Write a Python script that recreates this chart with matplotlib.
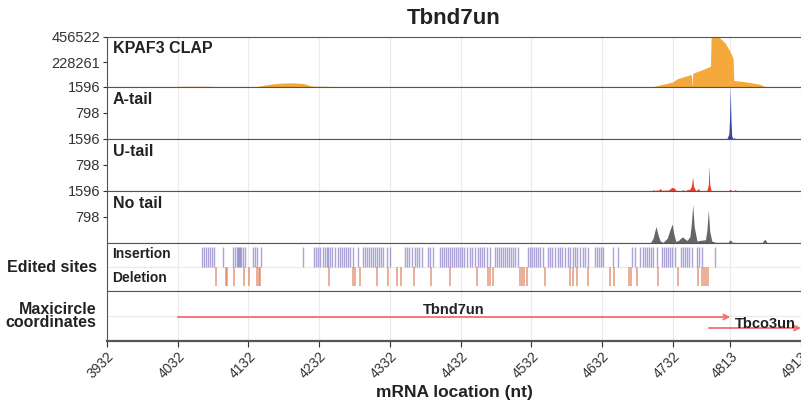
import matplotlib
matplotlib.use("Agg")
import matplotlib.pyplot as plt

plt.rcParams['font.family'] = ['Liberation Sans', 'DejaVu Sans']

# x axis
xticks = [3932, 4032, 4132, 4232, 4332, 4432, 4532, 4632, 4732, 4813, 4913]
xmin, xmax = 3932, 4913

# KPAF3 CLAP coverage
clap_x = [4030, 4034, 4045, 4075, 4082, 4090, 4140, 4150, 4165, 4180, 4195, 4210, 4219,
          4225, 4245, 4250, 4290, 4330, 4340, 4350, 4390, 4400,
          4690, 4705, 4711, 4731, 4738, 4756, 4758, 4759, 4760, 4780, 4785,
          4786, 4792, 4798, 4806, 4813, 4817, 4818, 4837, 4855, 4862, 4870]
clap_y = [0, 6000, 7000, 7000, 4000, 0, 0, 12000, 28000, 36000, 38000, 32000, 12000,
          7000, 6000, 4000, 4000, 4000, 0, 4000, 3000, 0,
          0, 5000, 15000, 45000, 75000, 112000, 112000, 5000, 125000, 175000, 190000,
          456522, 456522, 450000, 400000, 320000, 260000, 60000, 45000, 25000, 3000, 0]

# A-tail
a_x = [4808, 4811, 4812, 4813, 4814, 4815, 4817, 4818, 4819, 4820]
a_y = [0, 150, 600, 1596, 600, 100, 0, 40, 40, 0]

# U-tail
u_x = [4700, 4703, 4704, 4705, 4712, 4714, 4716, 4726, 4729, 4731, 4734, 4736,
       4744, 4746, 4748, 4756, 4758, 4760, 4761, 4764, 4766, 4768, 4770,
       4780, 4782, 4783, 4784, 4786, 4810, 4813, 4815, 4818, 4820, 4822]
u_y = [0, 20, 50, 20, 30, 80, 20, 30, 90, 110, 90, 20,
       10, 50, 10, 60, 150, 440, 150, 20, 30, 80, 10,
       20, 200, 770, 200, 10, 0, 60, 0, 0, 50, 0]

# No tail
n_x = [4700, 4704, 4708, 4711, 4714, 4718, 4724, 4728, 4731, 4733, 4736, 4740,
       4743, 4746, 4749, 4752, 4756, 4758, 4760, 4762, 4766, 4770, 4778,
       4780, 4782, 4784, 4787, 4792, 4800, 4810, 4813, 4816, 4825, 4840,
       4858, 4862, 4865, 4880]
n_y = [0, 150, 510, 250, 60, 20, 150, 420, 585, 300, 50, 80,
       150, 185, 120, 80, 200, 600, 1180, 500, 60, 80, 100,
       400, 1020, 350, 60, 20, 20, 20, 100, 20, 15, 15,
       15, 120, 10, 0]

# edited sites
insertions = [4066, 4069, 4072, 4075, 4078, 4080, 4083, 4096, 4110, 4113, 4116, 4117,
              4119, 4120, 4121, 4124, 4127, 4138, 4141, 4144, 4150, 4209, 4225, 4227,
              4230, 4233, 4237, 4240, 4243, 4244, 4247, 4250, 4254, 4259, 4261, 4264,
              4267, 4270, 4273, 4275, 4280, 4287, 4294, 4297, 4300, 4302, 4305, 4308,
              4311, 4314, 4316, 4319, 4322, 4328, 4332, 4353, 4356, 4359, 4363, 4367,
              4370, 4373, 4377, 4386, 4389, 4393, 4403, 4406, 4408, 4411, 4414, 4417,
              4420, 4423, 4425, 4428, 4431, 4434, 4437, 4441, 4445, 4448, 4452, 4456,
              4459, 4462, 4465, 4469, 4473, 4480, 4483, 4486, 4489, 4492, 4494, 4497,
              4500, 4503, 4506, 4509, 4513, 4527, 4530, 4533, 4535, 4538, 4541, 4544,
              4548, 4555, 4558, 4561, 4565, 4569, 4572, 4575, 4579, 4584, 4586, 4591,
              4594, 4597, 4601, 4605, 4608, 4612, 4622, 4625, 4628, 4630, 4633, 4647,
              4654, 4674, 4678, 4685, 4690, 4692, 4695, 4698, 4701, 4704, 4709, 4717,
              4719, 4722, 4725, 4728, 4731, 4735, 4743, 4746, 4749, 4752, 4755, 4759,
              4766, 4769, 4773, 4791]
deletions = [4086, 4100, 4102, 4112, 4126, 4133, 4144, 4147, 4148, 4246, 4280, 4283,
             4290, 4314, 4329, 4342, 4348, 4366, 4390, 4417, 4455, 4471, 4473, 4478,
             4516, 4519, 4521, 4526, 4551, 4586, 4591, 4596, 4612, 4643, 4649, 4670,
             4673, 4681, 4711, 4739, 4767, 4773, 4776, 4779, 4782]

# genes on maxicircle
genes = ["Tbnd7un", "Tbco3un"]
gene_start = [4032, 4783]
gene_end = [4813, 4913]

fig = plt.figure(figsize=(8.01, 4.04), dpi=100)
H = 404.0
W = 801.0
left = 107 / W
width = 1.0 - left

# panel top/bottom in pixels
panels = [(37, 87), (87, 139), (139, 191), (191, 243), (243, 291), (291, 341)]
axes = []
for top, bot in panels:
    ax = fig.add_axes([left, 1 - bot / H, width, (bot - top) / H])
    ax.set_xlim(xmin, xmax)
    ax.set_xticks(xticks)
    ax.grid(axis='x', color='#ebebeb', lw=0.8)
    ax.set_axisbelow(True)
    ax.spines['right'].set_visible(False)
    ax.spines['top'].set_color('#555555')
    ax.spines['bottom'].set_color('#555555')
    ax.spines['left'].set_color('#555555')
    ax.tick_params(axis='x', length=0, labelbottom=False)
    ax.tick_params(axis='y', labelsize=10.5, colors='#333333', length=3, pad=2)
    axes.append(ax)

lab = dict(fontsize=11.5, fontweight='bold', color='#222222', va='top', ha='left')

# CLAP
ax = axes[0]
ax.fill_between(clap_x, clap_y, color='#f5a93a', lw=0)
ax.set_ylim(0, 456522)
ax.set_yticks([228261, 456522])
ax.text(0.008, 0.92, "KPAF3 CLAP", transform=ax.transAxes, **lab)

tracks = [(a_x, a_y, '#3546a8', "A-tail"), (u_x, u_y, '#e8412c', "U-tail"),
          (n_x, n_y, '#666666', "No tail")]
for ax, (tx, ty, c, name) in zip(axes[1:4], tracks):
    ax.fill_between(tx, ty, color=c, lw=0)
    ax.set_ylim(0, 1596)
    ax.set_yticks([798, 1596])
    ax.text(0.008, 0.9, name, transform=ax.transAxes, **lab)

# edited sites
ax = axes[4]
ax.set_ylim(0, 1)
ax.set_yticks([])
ax.axhline(0.5, color='#ebebeb', lw=0.8, zorder=0)
ax.vlines(insertions, 0.5, 0.917, color='#7566bd', alpha=0.6, lw=1.0)
ax.vlines(deletions, 0.104, 0.5, color='#d9794f', alpha=0.75, lw=1.1)
ax.text(0.008, 0.78, "Insertion", transform=ax.transAxes, fontsize=10,
        fontweight='bold', color='#222222', va='center')
ax.text(0.008, 0.28, "Deletion", transform=ax.transAxes, fontsize=10,
        fontweight='bold', color='#222222', va='center')
ax.text(-0.015, 0.5, "Edited sites", transform=ax.transAxes, fontsize=11.5,
        fontweight='bold', color='#222222', ha='right', va='center')

# maxicircle coordinates
ax = axes[5]
ax.set_ylim(0, 1)
ax.set_yticks([])
ax.axhline(0.5, color='#ebebeb', lw=0.8, zorder=0)
gene_y = [0.48, 0.26]
for g, s, e, gy in zip(genes, gene_start, gene_end, gene_y):
    ax.annotate("", xy=(e, gy), xytext=(s, gy),
                arrowprops=dict(arrowstyle='->', color='#f07070', lw=1.3,
                                shrinkA=0, shrinkB=0, mutation_scale=9),
                annotation_clip=False)
ax.text((gene_start[0] + gene_end[0]) / 2, 0.62, genes[0], fontsize=10.5,
        fontweight='bold', color='#222222', ha='center', va='center')
ax.text(4862, 0.34, genes[1], fontsize=10.5, fontweight='bold', color='#222222',
        ha='center', va='center')
ax.text(-0.015, 0.5, "Maxicircle\ncoordinates", transform=ax.transAxes, fontsize=11.5,
        fontweight='bold', color='#222222', ha='right', va='center', linespacing=0.85)
ax.spines['bottom'].set_linewidth(1.6)
ax.tick_params(axis='x', length=4, labelbottom=True, labelsize=10,
               colors='#333333', width=0.8, pad=2)
for t in ax.get_xticklabels():
    t.set_rotation(45)
    t.set_ha('right')
    t.set_rotation_mode('anchor')
ax.set_xlabel("mRNA location (nt)", fontsize=12.5, fontweight='bold', color='#222222',
              labelpad=3)

fig.text(left + width / 2, 1 - 18 / H, "Tbnd7un", fontsize=16, fontweight='bold',
         color='#222222', ha='center', va='center')

fig.savefig("out.png", dpi=100)
